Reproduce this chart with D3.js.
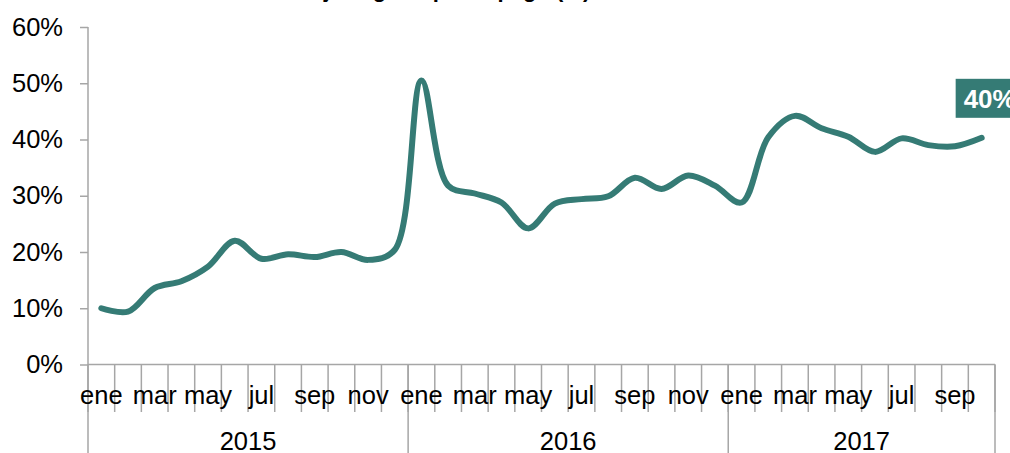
<!DOCTYPE html>
<html>
<head>
<meta charset="utf-8">
<script src="https://cdn.jsdelivr.net/npm/d3@7"></script>
<style>
  body { margin: 0; background: #fff; }
  svg { display: block; font-family: "Liberation Sans", Arial, sans-serif; }
  .grid line, .grid path { stroke: #a6a6a6; stroke-width: 1.5px; }
  .tick text { fill: #000; }
</style>
</head>
<body>
<div id="chart"></div>
<script>
const years = ['2015', '2016', '2017']
const monthNames = ['ene', 'feb', 'mar', 'abr', 'may', 'jun', 'jul', 'ago', 'sep', 'oct', 'nov', 'dic']
const monthsPerYear = [12, 12, 10]

// share, in percent, one value per month
const values2015 = [10.0, 9.4, 13.6, 14.8, 17.4, 22.0, 18.8, 19.6, 19.1, 20.0, 18.6, 20.4]
const values2016 = [50.5, 31.8, 30.4, 28.8, 24.2, 28.6, 29.4, 29.9, 33.2, 31.2, 33.6, 31.8]
const values2017 = [28.8, 40.4, 44.2, 42.0, 40.5, 37.8, 40.2, 39.0, 38.8, 40.3]
const yTicks = [0, 10, 20, 30, 40, 50, 60]
const title = 'Porcentaje según tipo de pago (%)'

const width = 1010
const height = 453
const plotLeft = 88
const plotRight = 995
const plotTop = 27
const plotBottom = 364.5
const fontSize = 25.5

const data = []
;[values2015, values2016, values2017].forEach((vals, yi) => {
  vals.forEach((v, mi) => data.push({ i: data.length, year: years[yi], month: monthNames[mi], value: v }))
})

const svg = d3.select('#chart').append('svg')
  .attr('width', width)
  .attr('height', height)

const x = d3.scaleBand()
  .domain(data.map(d => d.i))
  .range([plotLeft, plotRight])
  .padding(0)

const y = d3.scaleLinear()
  .domain([0, 60])
  .range([plotBottom, plotTop])

// title, mostly cut off by the top edge
svg.append('text')
  .attr('x', 410)
  .attr('y', -3)
  .attr('text-anchor', 'middle')
  .attr('font-size', 22)
  .attr('font-weight', 'bold')
  .text(title)

// y axis
const yAxis = svg.append('g')
  .attr('class', 'grid')
  .attr('transform', `translate(${plotLeft},0)`)
  .call(d3.axisLeft(y).tickValues(yTicks).tickSize(8).tickPadding(17).tickFormat(d => d + '%'))
yAxis.select('.domain').remove()
yAxis.selectAll('text').attr('font-size', fontSize)

const grid = svg.append('g').attr('class', 'grid')

// left axis line runs down to the bottom edge
grid.append('line')
  .attr('x1', plotLeft).attr('x2', plotLeft)
  .attr('y1', plotTop).attr('y2', height)

// category axis line at 0%
grid.append('line')
  .attr('x1', plotLeft).attr('x2', plotRight)
  .attr('y1', y(0)).attr('y2', y(0))

// month separators
const bounds = data.map(d => x(d.i)).concat([plotRight])
grid.selectAll('.sep')
  .data(bounds)
  .join('line')
  .attr('class', 'sep')
  .attr('x1', d => d).attr('x2', d => d)
  .attr('y1', y(0)).attr('y2', 412)

// year separators
let acc = 0
const yearSpans = years.map((yr, k) => {
  const start = acc
  acc += monthsPerYear[k]
  return { year: yr, start, end: acc }
})
const edge = k => k < data.length ? x(k) : plotRight
grid.selectAll('.ysep')
  .data(yearSpans.map(s => s.end))
  .join('line')
  .attr('class', 'ysep')
  .attr('x1', d => edge(d)).attr('x2', d => edge(d))
  .attr('y1', y(0)).attr('y2', height)

// month labels, every other month
svg.append('g').selectAll('text')
  .data(data.filter(d => monthNames.indexOf(d.month) % 2 === 0))
  .join('text')
  .attr('x', d => x(d.i) + x.bandwidth() / 2)
  .attr('y', 404)
  .attr('text-anchor', 'middle')
  .attr('font-size', fontSize)
  .text(d => d.month)

// year labels
svg.append('g').selectAll('text')
  .data(yearSpans)
  .join('text')
  .attr('x', d => (edge(d.start) + edge(d.end)) / 2)
  .attr('y', 450)
  .attr('text-anchor', 'middle')
  .attr('font-size', fontSize)
  .text(d => d.year)

// the line
const line = d3.line()
  .x(d => x(d.i) + x.bandwidth() / 2)
  .y(d => y(d.value))
  .curve(d3.curveCatmullRom.alpha(0.5))

svg.append('path')
  .datum(data)
  .attr('fill', 'none')
  .attr('stroke', '#357b75')
  .attr('stroke-width', 6)
  .attr('stroke-linecap', 'round')
  .attr('stroke-linejoin', 'round')
  .attr('d', line)

// label on last point
const last = data[data.length - 1]
const lx = x(last.i) + x.bandwidth() / 2
const ly = y(last.value)
svg.append('rect')
  .attr('x', lx - 26)
  .attr('y', ly - 59)
  .attr('width', 70)
  .attr('height', 39)
  .attr('fill', '#357b75')
svg.append('text')
  .attr('x', lx - 18)
  .attr('y', ly - 30)
  .attr('fill', '#fff')
  .attr('font-size', 26)
  .attr('font-weight', 'bold')
  .text(Math.round(last.value) + '%')
</script>
</body>
</html>
